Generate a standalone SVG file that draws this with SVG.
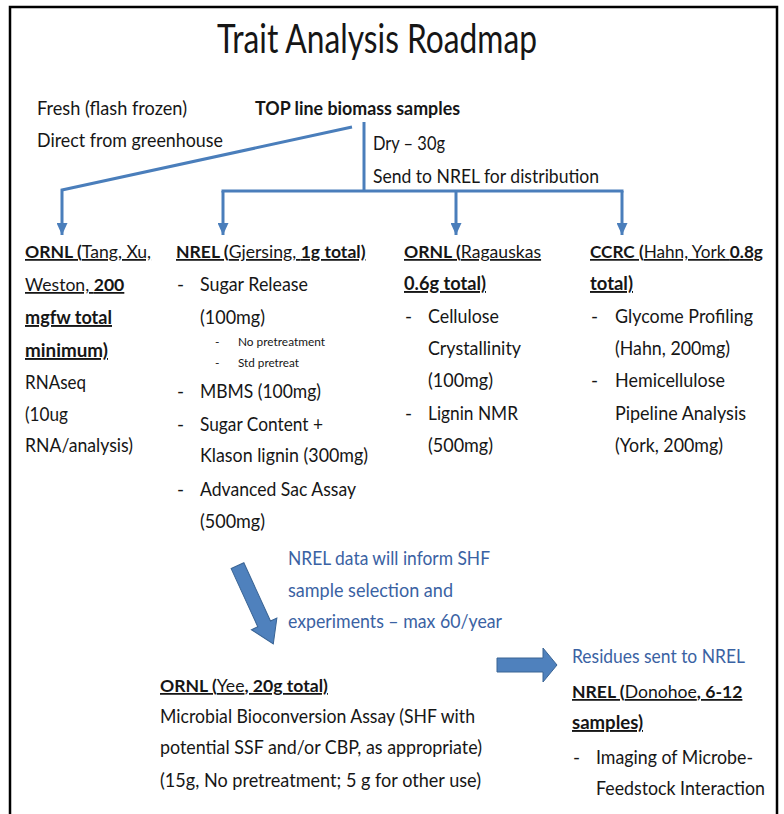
<svg xmlns="http://www.w3.org/2000/svg" width="784" height="814" viewBox="0 0 784 814">
<defs>
<style>
.t{font-family:Lato,"Liberation Sans",sans-serif;font-size:19px;fill:#161616}
.m{font-size:17.6px}
.m2{font-size:17.2px}
.b{font-weight:bold}
.u{text-decoration:underline}
.blue{fill:#3A62A3}
.s{font-size:12px}
.title{font-size:40px}
.ln{fill:none;stroke:#4A7EBB;stroke-width:3}
.fat{fill:#4F81BD;stroke:#3A6494;stroke-width:1}
</style>
<marker id="ah" markerUnits="userSpaceOnUse" markerWidth="12" markerHeight="11" refX="12" refY="5.5" orient="auto">
<path d="M0,0 L12,5.5 L0,11 z" fill="#4A7EBB"/>
</marker>
</defs>
<rect x="0" y="0" width="784" height="814" fill="#fff"/>
<rect x="10" y="7" width="767" height="830" fill="#fff" stroke="#000" stroke-width="2.5"/>

<g id="connectors">
<path class="ln" d="M352,127 L62,190 L62,235" marker-end="url(#ah)"/>
<path class="ln" d="M364,122 L364,191"/>
<path class="ln" d="M221.5,191 L623.5,191"/>
<path class="ln" d="M223,191 L223,235" marker-end="url(#ah)"/>
<path class="ln" d="M456,191 L456,235" marker-end="url(#ah)"/>
<path class="ln" d="M622,191 L622,235" marker-end="url(#ah)"/>
<polygon class="fat" points="0,-7 64,-7 64,-14 86,0 64,14 64,7 0,7" transform="translate(237.5,565.7) rotate(65.4)"/>
<polygon class="fat" points="497,658 543,658 543,648 557,665 543,682 543,672 497,672"/>
</g>

<g id="title">
<text class="t title" x="217" y="53" textLength="320" lengthAdjust="spacingAndGlyphs">Trait Analysis Roadmap</text>
</g>

<g id="source">
<text class="t" x="37" y="115" textLength="150" lengthAdjust="spacingAndGlyphs">Fresh (flash frozen)</text>
<text class="t" x="37" y="147" textLength="186" lengthAdjust="spacingAndGlyphs">Direct from greenhouse</text>
<text class="t b" x="255" y="115" textLength="205" lengthAdjust="spacingAndGlyphs">TOP line biomass samples</text>
<text class="t" x="373" y="150" textLength="72" lengthAdjust="spacingAndGlyphs">Dry – 30g</text>
<text class="t" x="373" y="183" textLength="226" lengthAdjust="spacingAndGlyphs">Send to NREL for distribution</text>
</g>

<g id="ornl-tang">
<text class="t m u" x="25" y="258"><tspan class="b">ORNL (</tspan>Tang, Xu,</text>
<text class="t m u" x="25" y="291">Weston, <tspan class="b">200</tspan></text>
<text class="t u b" x="25" y="324" textLength="87" lengthAdjust="spacingAndGlyphs">mgfw total</text>
<text class="t u b" x="25" y="357" textLength="83" lengthAdjust="spacingAndGlyphs">minimum)</text>
<text class="t" x="25" y="389" textLength="61" lengthAdjust="spacingAndGlyphs">RNAseq</text>
<text class="t" x="25" y="421" textLength="43" lengthAdjust="spacingAndGlyphs">(10ug</text>
<text class="t" x="25" y="452" textLength="108" lengthAdjust="spacingAndGlyphs">RNA/analysis)</text>
</g>

<g id="nrel-gjersing">
<text class="t m u" x="176" y="258"><tspan class="b">NREL (</tspan>Gjersing, <tspan class="b">1g total)</tspan></text>
<text class="t" x="177" y="291">-</text>
<text class="t" x="200" y="291" textLength="108" lengthAdjust="spacingAndGlyphs">Sugar Release</text>
<text class="t" x="200" y="324" textLength="65" lengthAdjust="spacingAndGlyphs">(100mg)</text>
<text class="t s" x="215" y="346">-</text>
<text class="t s" x="238" y="346" textLength="87" lengthAdjust="spacingAndGlyphs">No pretreatment</text>
<text class="t s" x="215" y="367">-</text>
<text class="t s" x="238" y="367" textLength="61" lengthAdjust="spacingAndGlyphs">Std pretreat</text>
<text class="t" x="177" y="398">-</text>
<text class="t" x="200" y="398" textLength="121" lengthAdjust="spacingAndGlyphs">MBMS (100mg)</text>
<text class="t" x="177" y="431">-</text>
<text class="t" x="200" y="431" textLength="123" lengthAdjust="spacingAndGlyphs">Sugar Content +</text>
<text class="t" x="200" y="462" textLength="168" lengthAdjust="spacingAndGlyphs">Klason lignin (300mg)</text>
<text class="t" x="177" y="496">-</text>
<text class="t" x="200" y="496" textLength="156" lengthAdjust="spacingAndGlyphs">Advanced Sac Assay</text>
<text class="t" x="200" y="528" textLength="65" lengthAdjust="spacingAndGlyphs">(500mg)</text>
</g>

<g id="ornl-ragauskas">
<text class="t m u" x="404" y="258"><tspan class="b">ORNL (</tspan>Ragauskas</text>
<text class="t u b" x="404" y="290" textLength="82" lengthAdjust="spacingAndGlyphs">0.6g total)</text>
<text class="t" x="405" y="323">-</text>
<text class="t" x="428" y="323" textLength="71" lengthAdjust="spacingAndGlyphs">Cellulose</text>
<text class="t" x="428" y="355" textLength="93" lengthAdjust="spacingAndGlyphs">Crystallinity</text>
<text class="t" x="428" y="387" textLength="65" lengthAdjust="spacingAndGlyphs">(100mg)</text>
<text class="t" x="405" y="420">-</text>
<text class="t" x="428" y="420" textLength="90" lengthAdjust="spacingAndGlyphs">Lignin NMR</text>
<text class="t" x="428" y="452" textLength="65" lengthAdjust="spacingAndGlyphs">(500mg)</text>
</g>

<g id="ccrc">
<text class="t m2 u" x="590" y="258"><tspan class="b">CCRC (</tspan>Hahn, York <tspan class="b">0.8g</tspan></text>
<text class="t u b" x="590" y="290" textLength="43" lengthAdjust="spacingAndGlyphs">total)</text>
<text class="t" x="591" y="323">-</text>
<text class="t" x="615" y="323" textLength="138" lengthAdjust="spacingAndGlyphs">Glycome Profiling</text>
<text class="t" x="615" y="355" textLength="115" lengthAdjust="spacingAndGlyphs">(Hahn, 200mg)</text>
<text class="t" x="591" y="387">-</text>
<text class="t" x="615" y="387" textLength="110" lengthAdjust="spacingAndGlyphs">Hemicellulose</text>
<text class="t" x="615" y="420" textLength="131" lengthAdjust="spacingAndGlyphs">Pipeline Analysis</text>
<text class="t" x="615" y="452" textLength="108" lengthAdjust="spacingAndGlyphs">(York, 200mg)</text>
</g>

<g id="note-shf">
<text class="t blue" x="288" y="565" textLength="202" lengthAdjust="spacingAndGlyphs">NREL data will inform SHF</text>
<text class="t blue" x="288" y="597" textLength="165" lengthAdjust="spacingAndGlyphs">sample selection and</text>
<text class="t blue" x="288" y="628" textLength="214" lengthAdjust="spacingAndGlyphs">experiments – max 60/year</text>
</g>

<g id="ornl-yee">
<text class="t m u" x="160" y="692"><tspan class="b">ORNL (</tspan>Yee<tspan class="b">, 20g total)</tspan></text>
<text class="t" x="160" y="723" textLength="315" lengthAdjust="spacingAndGlyphs">Microbial Bioconversion Assay (SHF with</text>
<text class="t" x="160" y="754" textLength="322" lengthAdjust="spacingAndGlyphs">potential SSF and/or CBP, as appropriate)</text>
<text class="t" x="160" y="787" textLength="321" lengthAdjust="spacingAndGlyphs">(15g, No pretreatment; 5 g for other use)</text>
</g>

<g id="nrel-donohoe">
<text class="t blue" x="572" y="663" textLength="173" lengthAdjust="spacingAndGlyphs">Residues sent to NREL</text>
<text class="t m u" x="572" y="698"><tspan class="b">NREL (</tspan>Donohoe<tspan class="b">, 6-12</tspan></text>
<text class="t u b" x="572" y="729" textLength="71" lengthAdjust="spacingAndGlyphs">samples)</text>
<text class="t" x="573" y="764">-</text>
<text class="t" x="596" y="764" textLength="157" lengthAdjust="spacingAndGlyphs">Imaging of Microbe-</text>
<text class="t" x="596" y="795" textLength="169" lengthAdjust="spacingAndGlyphs">Feedstock Interaction</text>
</g>
</svg>
